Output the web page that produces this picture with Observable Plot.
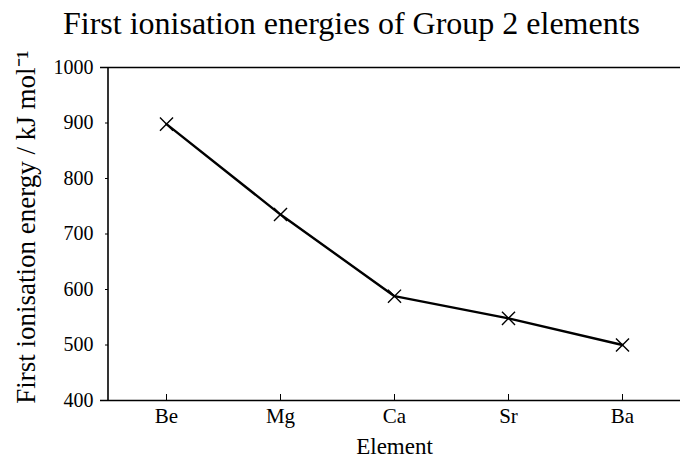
<!DOCTYPE html>
<html>
<head>
<meta charset="utf-8">
<script src="https://cdn.jsdelivr.net/npm/d3@7"></script>
<script src="https://cdn.jsdelivr.net/npm/@observablehq/plot@0.6"></script>
<style>
  html, body { margin: 0; padding: 0; background: #fff; }
  #chart { width: 680px; height: 462px; }
</style>
</head>
<body>
<div id="chart"></div>
<script>
const titleText = "First ionisation energies of Group 2 elements";
const elements = ["Be", "Mg", "Ca", "Sr", "Ba"];
const energies = [898, 735, 588, 548, 500];
const yTicks = [400, 500, 600, 700, 800, 900, 1000];
const yLabel = "First ionisation energy / kJ mol⁻¹";
const xLabel = "Element";

const data = elements.map((e, i) => ({element: e, energy: energies[i]}));
const font = "'Liberation Serif', 'Times New Roman', serif";

const plot = Plot.plot({
  width: 680,
  height: 462,
  marginTop: 67,
  marginBottom: 62,
  marginLeft: 108,
  marginRight: 0,
  style: {fontFamily: font, fontSize: "20px", color: "#000", background: "#fff"},
  x: {type: "point", domain: elements, padding: 0.5},
  y: {domain: [400, 1000]},
  marks: [
    Plot.ruleY([400, 1000], {stroke: "#000", strokeWidth: 1.6, insetLeft: -8}),
    Plot.axisY({ticks: yTicks, tickFormat: "d", tickSize: 3, tickPadding: 12, fontSize: 20, fontFamily: font, label: null}),
    Plot.axisX({tickSize: -6, tickPadding: 14, fontSize: 21, fontFamily: font, label: null}),
    Plot.line(data, {x: "element", y: "energy", stroke: "#000", strokeWidth: 2.4}),
    Plot.dot(data, {x: "element", y: "energy", symbol: "times", r: 6, stroke: "#000", strokeWidth: 1.4}),
    Plot.text([titleText], {frameAnchor: "top-left", dx: 243, dy: -44, fontSize: 32, fontFamily: font, textAnchor: "middle", lineAnchor: "middle", fill: "#000"}),
    Plot.text([xLabel], {frameAnchor: "bottom", dy: 46, fontSize: 23, fontFamily: font, lineAnchor: "middle", fill: "#000"}),
    Plot.text([yLabel], {frameAnchor: "left", dx: -82, dy: -7, rotate: -90, fontSize: 27, fontFamily: font, textAnchor: "middle", lineAnchor: "middle", fill: "#000"})
  ]
});

const ys = plot.scale("y");
d3.select(plot).append("line")
  .attr("x1", 108).attr("x2", 108)
  .attr("y1", ys.apply(1000)).attr("y2", ys.apply(400))
  .attr("stroke", "#000").attr("stroke-width", 1.6);

document.getElementById("chart").appendChild(plot);
</script>
</body>
</html>
